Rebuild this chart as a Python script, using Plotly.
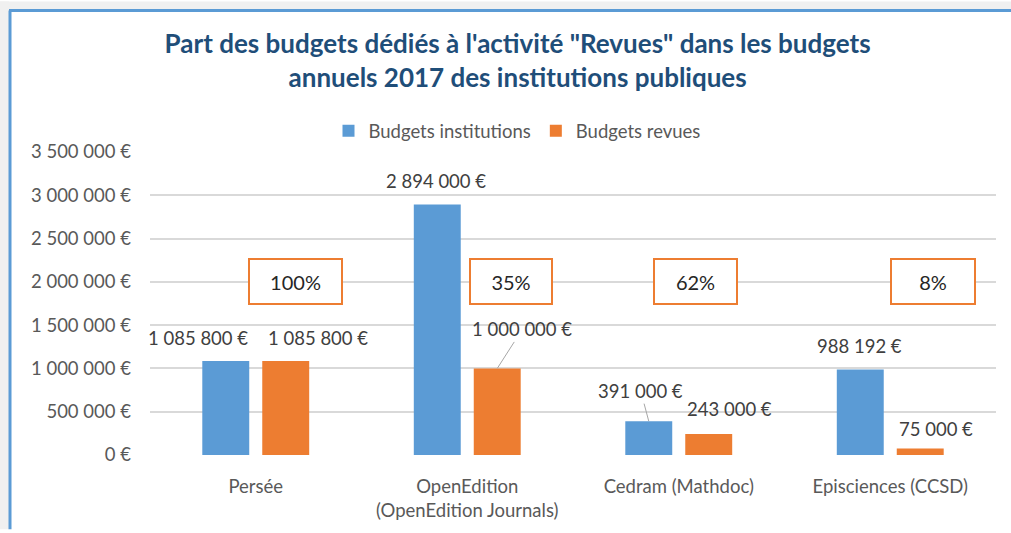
import plotly.graph_objects as go

# Données
categories = ["Persée", "OpenEdition<br>(OpenEdition Journals)", "Cedram (Mathdoc)", "Episciences (CCSD)"]
budgets_institutions = [1085800, 2894000, 391000, 988192]
budgets_revues = [1085800, 1000000, 243000, 75000]
parts_revues = ["100%", "35%", "62%", "8%"]

BLEU = '#5b9bd5'
ORANGE = '#ed7d31'
GRIS_TXT = '#595959'
POLICE = 'Lato, Open Sans, sans-serif'
TAILLE = 18.5

W, H = 1011, 533
L, R, T, B = 150, 15, 152, 75


def px_x(p):
    return (p - L) / (W - L - R)


def px_y(p):
    return (H - B - p) / (H - T - B)


def fmt_euro(v):
    return f"{v:,}".replace(",", " ") + " €"


fig = go.Figure()
fig.add_trace(go.Bar(x=categories, y=budgets_institutions, name='Budgets institutions',
                     marker=dict(color=BLEU, line_width=0)))
fig.add_trace(go.Bar(x=categories, y=budgets_revues, name='Budgets revues',
                     marker=dict(color=ORANGE, line_width=0)))

# étiquettes de valeurs (déplacées à la main comme dans l'original)
decal_inst = [(-58, 23), (-31, 23), None, (-31, 23)]
decal_rev = [(62, 23), None, (51, 25), (46, 20)]
for cat, v, d in zip(categories, budgets_institutions, decal_inst):
    if d:
        fig.add_annotation(x=cat, y=v, text=fmt_euro(v), showarrow=False,
                           xshift=d[0], yshift=d[1], font=dict(size=TAILLE, color='#404040'))
for cat, v, d in zip(categories, budgets_revues, decal_rev):
    if d:
        fig.add_annotation(x=cat, y=v, text=fmt_euro(v), showarrow=False,
                           xshift=d[0], yshift=d[1], font=dict(size=TAILLE, color='#404040'))

# étiquettes avec trait de rappel
fig.add_annotation(x=categories[1], y=budgets_revues[1], text=fmt_euro(budgets_revues[1]),
                   xshift=30, showarrow=True, arrowhead=0, arrowwidth=1, arrowcolor='#a6a6a6',
                   ax=25, ay=-39, font=dict(size=TAILLE, color='#404040'))
fig.add_annotation(x=categories[2], y=budgets_institutions[2], text=fmt_euro(budgets_institutions[2]),
                   xshift=-30, showarrow=True, arrowhead=0, arrowwidth=1, arrowcolor='#a6a6a6',
                   ax=-8, ay=-30, font=dict(size=TAILLE, color='#404040'))

# encadrés des parts
decal_parts = [40, 44, 17, 43]
larg_parts = [89, 78, 79, 80]
for cat, txt, dx, lw in zip(categories, parts_revues, decal_parts, larg_parts):
    fig.add_annotation(x=cat, y=2000000, text=txt, showarrow=False, xshift=dx,
                       width=lw, height=41, bgcolor='white', bordercolor=ORANGE, borderwidth=2,
                       font=dict(size=20, color='#262626'))

# cadre du graphique
fig.add_shape(type='rect', xref='paper', yref='paper', x0=px_x(0), x1=px_x(9), y0=px_y(H), y1=px_y(0),
              fillcolor='#f0f0f0', line_width=0, layer='below')
fig.add_shape(type='rect', xref='paper', yref='paper', x0=px_x(0), x1=px_x(W), y0=px_y(8), y1=px_y(0),
              fillcolor='#f0f0f0', line_width=0, layer='below')
fig.add_shape(type='line', xref='paper', yref='paper', x0=px_x(10), x1=px_x(10), y0=px_y(H), y1=px_y(9),
              line=dict(color=BLEU, width=3))
fig.add_shape(type='line', xref='paper', yref='paper', x0=px_x(9), x1=px_x(W), y0=px_y(9), y1=px_y(9),
              line=dict(color=BLEU, width=3))

fig.update_layout(
    width=W, height=H,
    margin=dict(l=L, r=R, t=T, b=B),
    paper_bgcolor='white', plot_bgcolor='white',
    font=dict(family=POLICE, size=TAILLE, color=GRIS_TXT),
    separators=', ',
    title=dict(text="<b>Part des budgets dédiés à l'activité \"Revues\" dans les budgets<br>annuels 2017 des institutions publiques</b>",
               x=0.512, xanchor='center', y=1 - 53 / H, yanchor='top',
               font=dict(size=26, color='#1f4e79', family=POLICE)),
    barmode='group', bargap=0.433, bargroupgap=0.217,
    legend=dict(orientation='h', x=px_x(517), xanchor='center', y=px_y(131), yanchor='middle',
                font=dict(size=TAILLE, color=GRIS_TXT), bgcolor='rgba(0,0,0,0)'),
    showlegend=True,
)
fig.update_yaxes(range=[0, 3500000], dtick=500000, tickformat=',d', ticksuffix=' €',
                 gridcolor='#d9d9d9', gridwidth=1.5, zeroline=False, showline=False,
                 ticklabelstandoff=18, tickfont=dict(size=TAILLE, color=GRIS_TXT))
fig.update_xaxes(range=[-0.5, len(categories) - 0.5], showgrid=False, showline=False, ticks='',
                 ticklabelstandoff=18, tickfont=dict(size=TAILLE, color=GRIS_TXT))

# page sans marge ni défilement
js = ("document.body.style.margin='0';"
      "document.body.style.overflow='hidden';")
fig.write_html("out.html", config={'displayModeBar': False}, post_script=js)
